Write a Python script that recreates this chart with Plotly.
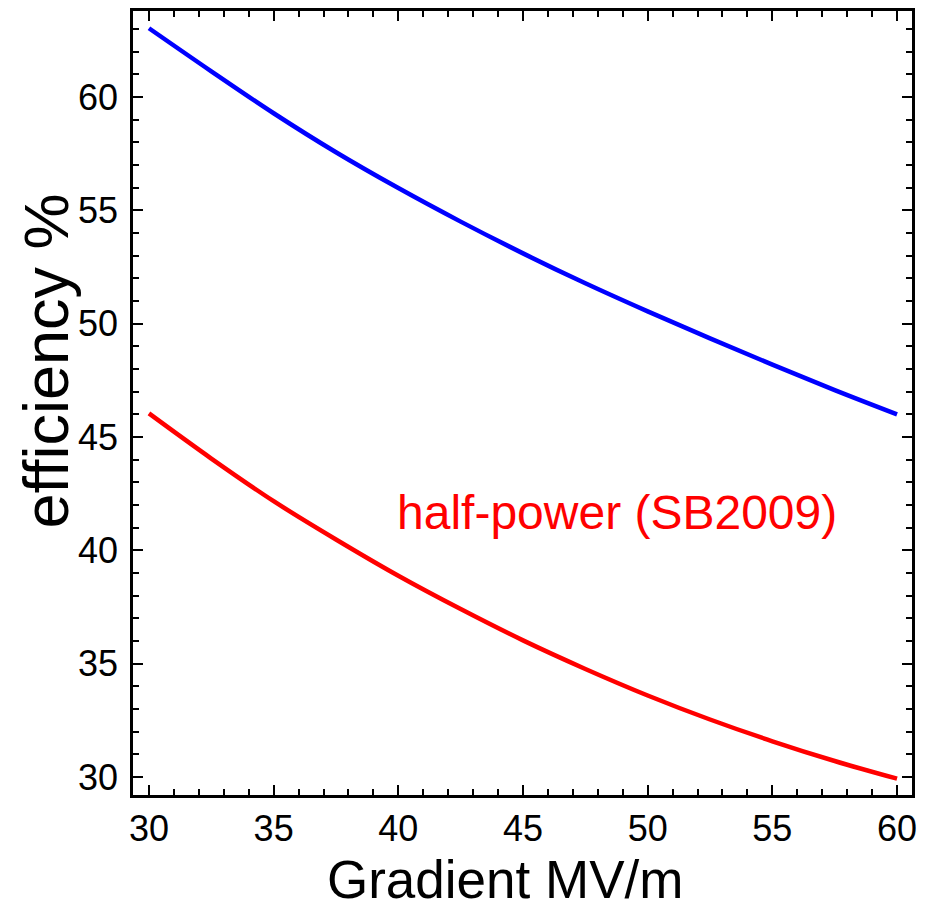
import plotly.graph_objects as go

# Data
gradient = [30.0, 32.5, 35.0, 37.5, 40.0, 42.5, 45.0, 47.5, 50.0, 52.5, 55.0, 57.5, 60.0]
eff_blue = [63.03, 61.13, 59.28, 57.56, 55.98, 54.50, 53.10, 51.78, 50.54, 49.35, 48.19, 47.07, 46.0]
eff_red = [46.04, 44.05, 42.17, 40.48, 38.88, 37.41, 36.03, 34.77, 33.60, 32.54, 31.58, 30.71, 29.93]

x_ticks = [30, 35, 40, 45, 50, 55, 60]
y_ticks = [30, 35, 40, 45, 50, 55, 60]

label_text = "half-power (SB2009)"
x_title = "Gradient MV/m"
y_title = "efficiency %"

FONT = "Liberation Sans, Arial, Helvetica, sans-serif"

fig = go.Figure()
fig.add_trace(go.Scatter(x=gradient, y=eff_blue, mode="lines",
                         line=dict(color="#0000FF", width=4.5, shape="spline", smoothing=1.0),
                         showlegend=False))
fig.add_trace(go.Scatter(x=gradient, y=eff_red, mode="lines",
                         line=dict(color="#FF0000", width=4.5, shape="spline", smoothing=1.0),
                         showlegend=False))

axis_common = dict(
    showline=True, linecolor="black", linewidth=2.5, mirror="ticks",
    ticks="inside", ticklen=10, tickwidth=2, tickcolor="black",
    showgrid=False, zeroline=False,
    tickfont=dict(family=FONT, size=36, color="black"),
)
minor_common = dict(ticks="inside", ticklen=6, dtick=1, tick0=30, tickwidth=2,
                    tickcolor="black", showgrid=False)

fig.update_xaxes(range=[29.36, 60.6], tickvals=x_ticks, minor=minor_common,
                 ticklabelstandoff=0, **axis_common)
fig.update_yaxes(range=[29.21, 63.79], tickvals=y_ticks, minor=minor_common,
                 ticklabelstandoff=5, **axis_common)

fig.add_annotation(x=48.76, y=41.67, xref="x", yref="y", text=label_text, showarrow=False,
                   xanchor="center", yanchor="middle",
                   font=dict(family=FONT, size=48, color="#FF0000"))
fig.add_annotation(x=0.478, y=-0.108, xref="paper", yref="paper", text=x_title, showarrow=False,
                   xanchor="center", yanchor="middle",
                   font=dict(family=FONT, size=53, color="black"))
fig.add_annotation(x=-0.112, y=0.554, xref="paper", yref="paper", text=y_title, showarrow=False,
                   xanchor="center", yanchor="middle", textangle=-90,
                   font=dict(family=FONT, size=63, color="black"))

fig.update_layout(
    width=925, height=908,
    margin=dict(l=133, r=8, t=10, b=113),
    paper_bgcolor="white", plot_bgcolor="white",
)

fig.write_html("out.html",
               config={"displayModeBar": False},
               post_script="document.body.style.margin='0';document.body.style.overflow='hidden';")
